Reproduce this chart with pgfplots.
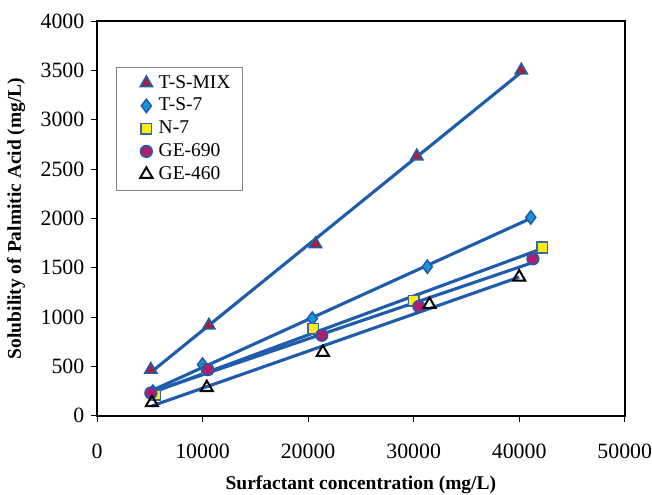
\documentclass[border=0pt]{standalone}
\usepackage{fontspec}
\setmainfont{Liberation Serif}
\usepackage{pgfplots}
\usepackage{pgfplotstable}
\pgfplotsset{compat=1.18}

\definecolor{linebl}{RGB}{32,92,172}
\definecolor{mixred}{RGB}{168,30,60}
\definecolor{tsblue}{RGB}{20,150,220}
\definecolor{nyel}{RGB}{250,235,20}
\definecolor{gemag}{RGB}{175,30,110}

\pgfplotstableread{
x y
5100 467
10600 915
20700 1740
30300 2630
40200 3500
}\tsmix
\pgfplotstableread{
x y
5300 244
10000 518
20400 985
31300 1510
41100 2010
}\tsseven
\pgfplotstableread{
x y
5500 210
10400 470
20500 880
30000 1165
42200 1705
}\nseven
\pgfplotstableread{
x y
5100 230
10500 467
21300 815
30500 1107
41300 1590
}\gesix
\pgfplotstableread{
x y
5200 132
10400 284
21400 642
31500 1127
40000 1405
}\gefour

\begin{document}
\begin{tikzpicture}[font=\fontsize{10}{12}\selectfont]
% page = axis box plus the margins measured on the reference
\useasboundingbox (-49.8pt,-40.5pt) rectangle (284.9pt,213.4pt);
\begin{axis}[
    at={(0,0)}, anchor=south west,
    scale only axis,
    width=270.9pt, height=202.6pt,
    xmin=0, xmax=50000, ymin=0, ymax=4000,
    xtick={0,10000,...,50000},
    ytick={0,500,...,4000},
    scaled ticks=false,
    /pgf/number format/1000 sep={},
    /pgf/number format/assume math mode=true,
    tick align=outside,
    xtick pos=bottom, ytick pos=left,
    major tick length=3pt,
    tick style={black, line width=0.4pt},
    axis line style={black, line width=1pt},
    ticklabel style={font=\fontsize{11.2}{13}\selectfont},
    xticklabel style={yshift=-8pt},
    xlabel={\bfseries Surfactant concentration (mg/L)},
    ylabel={\bfseries Solubility of Palmitic Acid (mg/L)},
    label style={font=\fontsize{10.7}{13}\selectfont},
    every axis x label/.style={at={(0.5,0)}, yshift=-35.4pt, anchor=center},
    every axis y label/.style={at={(0,0.5)}, xshift=-41.5pt, rotate=90, anchor=center},
    legend style={at={(0.036,0.884)}, anchor=north west, draw=gray,
        line width=0.5pt, font=\fontsize{10}{12}\selectfont,
        row sep=-0.4pt, inner xsep=4pt, inner ysep=2pt},
    % marker pushed right inside the legend box, as in the reference
    legend image code/.code={%
        \path (0pt,0pt) (0.6cm-3pt,0pt);
        \draw[mark repeat=2,mark phase=2,#1]
            plot coordinates {(2pt,0cm) (0.3cm+2pt,0cm) (0.6cm-3pt,0cm)};},
    legend cell align=left,
    every axis plot/.append style={line width=1.6pt},
]
\addplot[only marks, mark=triangle*, mark size=3.6pt,
    mark options={fill=mixred, draw=linebl, line width=0.8pt}] table {\tsmix};
\addlegendentry{T-S-MIX}
\addplot[only marks, mark=diamond*, mark size=3.4pt,
    mark options={fill=tsblue, draw=linebl, line width=0.8pt}] table {\tsseven};
\addlegendentry{T-S-7}
\addplot[only marks, mark=square*, mark size=2.7pt,
    mark options={fill=nyel, draw=linebl!70!gray, line width=0.8pt}] table {\nseven};
\addlegendentry{N-7}
\addplot[only marks, mark=*, mark size=3pt,
    mark options={fill=gemag, draw=linebl, line width=0.8pt}] table {\gesix};
\addlegendentry{GE-690}
\addplot[only marks, mark=triangle, mark size=3.6pt,
    mark options={draw=black, fill=white, line width=1pt}] table {\gefour};
\addlegendentry{GE-460}

% linear trend lines, drawn over the markers as in the reference
\addplot[linebl, no marks, forget plot] table[y={create col/linear regression={y=y}}] {\tsmix};
\addplot[linebl, no marks, forget plot] table[y={create col/linear regression={y=y}}] {\tsseven};
\addplot[linebl, no marks, forget plot] table[y={create col/linear regression={y=y}}] {\nseven};
\addplot[linebl, no marks, forget plot] table[y={create col/linear regression={y=y}}] {\gesix};
\addplot[linebl, no marks, forget plot] table[y={create col/linear regression={y=y}}] {\gefour};
\end{axis}
\end{tikzpicture}
\end{document}
